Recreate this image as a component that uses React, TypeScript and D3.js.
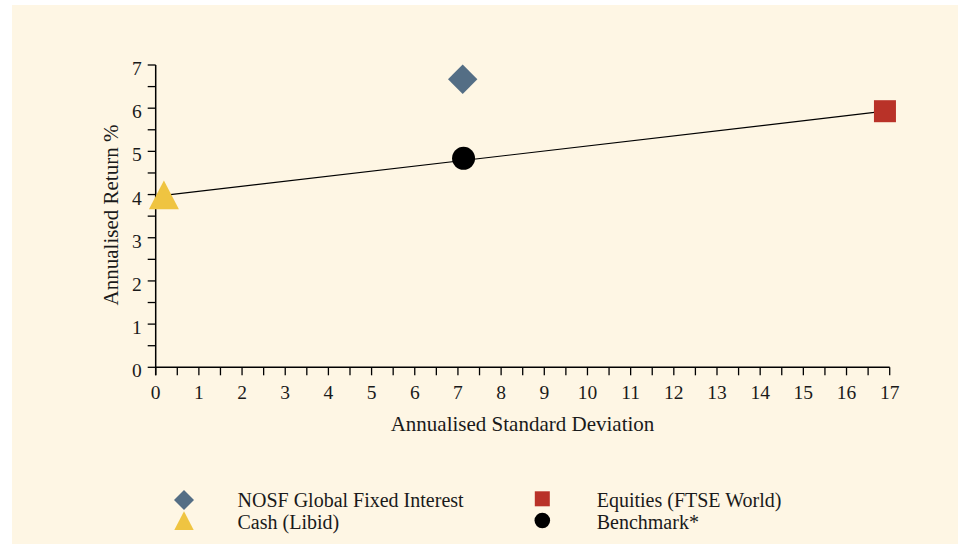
import React from "react";
import * as d3 from "d3";

const seriesNames = ["NOSF Global Fixed Interest", "Equities (FTSE World)", "Cash (Libid)", "Benchmark*"];
const seriesX = [7.11, 16.89, 0.19, 7.13];
const seriesY = [6.67, 5.93, 3.98, 4.84];
const seriesColors = ["#546E85", "#B93228", "#EFC441", "#000000"];
const seriesShapes = ["diamond", "square", "triangle", "circle"];
const lineFrom = 2; // Cash
const lineTo = 1; // Equities
const xTicks = d3.range(0, 18, 1);
const yTicks = d3.range(0, 8, 1);

const W = 965, H = 544;
const FONT = "'Liberation Serif', serif";

function Marker({ shape, color, cx, cy, s }: { shape: string; color: string; cx: number; cy: number; s: number }) {
  if (shape === "diamond") {
    return <polygon points={`${cx},${cy - s} ${cx + s},${cy} ${cx},${cy + s} ${cx - s},${cy}`} fill={color} />;
  }
  if (shape === "square") {
    return <rect x={cx - s} y={cy - s} width={2 * s} height={2 * s} fill={color} />;
  }
  if (shape === "triangle") {
    return <polygon points={`${cx},${cy - s} ${cx + s},${cy + s * 0.93} ${cx - s},${cy + s * 0.93}`} fill={color} />;
  }
  return <circle cx={cx} cy={cy} r={s} fill={color} />;
}

export default function App() {
  const x = d3.scaleLinear().domain([0, 17]).range([155.7, 889.7]);
  const y = d3.scaleLinear().domain([0, 7]).range([367.3, 65]);
  const xMinor = d3.range(0, 17.01, 0.5);
  const yMinor = d3.range(0, 7.01, 0.5);
  const sizes = [14.7, 11, 15, 11.5];
  const legend = [
    { i: 0, mx: 184, my: 500, tx: 237.5, ty: 506.7 },
    { i: 2, mx: 184, my: 521, tx: 237.5, ty: 529 },
    { i: 1, mx: 542.3, my: 498.8, tx: 596.7, ty: 506.7 },
    { i: 3, mx: 542.3, my: 520.5, tx: 596.7, ty: 528.5 },
  ];
  const legendSizes = [10, 7.5, 9.7, 7.8];
  return (
    <svg width={W} height={H} style={{ position: "absolute", left: 0, top: 0 }} fontFamily={FONT}>
      <rect x={12} y={5} width={946} height={H - 5} fill="#FEF6E4" />
      {/* axes */}
      <line x1={x(0)} x2={x(17)} y1={y(0)} y2={y(0)} stroke="#000" strokeWidth={1.5} />
      <line x1={x(0)} x2={x(0)} y1={y(0) + 8} y2={y(7)} stroke="#000" strokeWidth={1.5} />
      {xMinor.map((v) => (
        <line key={"xt" + v} x1={x(v)} x2={x(v)} y1={y(0)} y2={y(0) + 8} stroke="#000" strokeWidth={1.3} />
      ))}
      {yMinor.map((v) => (
        <line key={"yt" + v} x1={x(0) - 8} x2={x(0)} y1={y(v)} y2={y(v)} stroke="#000" strokeWidth={1.3} />
      ))}
      {xTicks.map((v) => (
        <text key={"xl" + v} x={x(v)} y={y(0) + 32} textAnchor="middle" fontSize={19.5} fill="#1a1a1a">{v}</text>
      ))}
      {yTicks.map((v) => (
        <text key={"yl" + v} x={x(0) - 14} y={y(v) + 10} textAnchor="end" fontSize={19.5} fill="#1a1a1a">{v}</text>
      ))}
      <text x={522.5} y={431} textAnchor="middle" fontSize={21} fill="#1a1a1a">Annualised Standard Deviation</text>
      <text transform={`translate(118,215) rotate(-90)`} textAnchor="middle" fontSize={21} fill="#1a1a1a">Annualised Return %</text>
      {/* line */}
      <line x1={x(seriesX[lineFrom])} y1={y(seriesY[lineFrom])} x2={x(seriesX[lineTo])} y2={y(seriesY[lineTo])} stroke="#000" strokeWidth={1.2} />
      {seriesNames.map((n, i) => (
        <Marker key={n} shape={seriesShapes[i]} color={seriesColors[i]} cx={x(seriesX[i])} cy={y(seriesY[i])} s={sizes[i]} />
      ))}
      {legend.map((l) => (
        <g key={"lg" + l.i}>
          <Marker shape={seriesShapes[l.i]} color={seriesColors[l.i]} cx={l.mx} cy={l.my} s={legendSizes[l.i]} />
          <text x={l.tx} y={l.ty} fontSize={20} fill="#1a1a1a">{seriesNames[l.i]}</text>
        </g>
      ))}
    </svg>
  );
}
